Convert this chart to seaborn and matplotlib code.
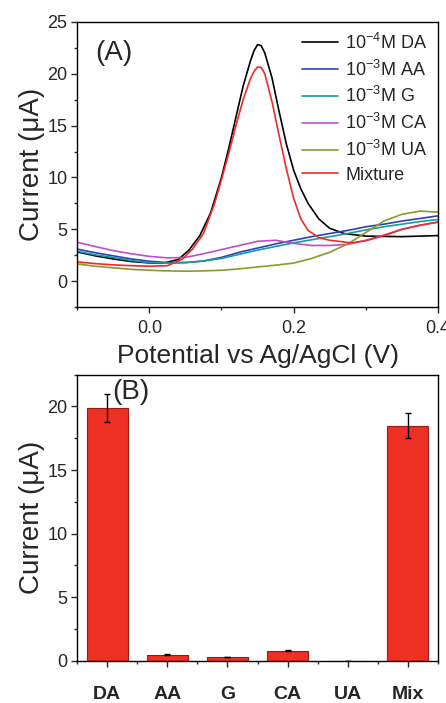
import numpy as np
import seaborn as sns
import matplotlib.pyplot as plt
from matplotlib.ticker import MultipleLocator, FormatStrFormatter

# ---- data (A): voltammograms ----
x_da = [-0.1, -0.075, -0.05, -0.025, 0.0, 0.02, 0.04, 0.055, 0.07, 0.085, 0.1, 0.11,
        0.12, 0.13, 0.14, 0.145, 0.15, 0.155, 0.16, 0.17, 0.18, 0.19, 0.2, 0.21, 0.22,
        0.235, 0.25, 0.27, 0.3, 0.35, 0.4]
y_da = [2.83, 2.45, 2.15, 1.9, 1.77, 1.75, 2.1, 3.0, 4.4, 6.6, 10.0, 12.8,
        15.8, 18.8, 21.2, 22.2, 22.8, 22.7, 22.0, 19.6, 16.3, 13.2, 10.7, 8.9, 7.5,
        6.0, 5.1, 4.6, 4.35, 4.3, 4.4]

x_mix = [-0.1, -0.075, -0.05, -0.025, 0.0, 0.025, 0.045, 0.06, 0.075, 0.09, 0.1, 0.11,
         0.12, 0.13, 0.14, 0.145, 0.15, 0.155, 0.16, 0.17, 0.18, 0.19, 0.2, 0.21, 0.22,
         0.235, 0.25, 0.28, 0.3, 0.325, 0.35, 0.375, 0.4]
y_mix = [1.87, 1.7, 1.58, 1.5, 1.45, 1.5, 2.1, 3.1, 4.6, 7.4, 9.8, 12.3,
         15.0, 17.5, 19.5, 20.2, 20.65, 20.6, 20.0, 17.3, 14.0, 10.8, 8.0, 6.0, 4.9,
         4.2, 3.95, 3.7, 3.9, 4.4, 5.0, 5.4, 5.7]

x_bg = [-0.1, -0.075, -0.05, -0.025, 0.0, 0.025, 0.05, 0.075, 0.1, 0.125, 0.15,
        0.175, 0.2, 0.225, 0.25, 0.275, 0.3, 0.325, 0.35, 0.375, 0.4]
y_aa = [3.1, 2.75, 2.45, 2.15, 1.93, 1.8, 1.8, 1.95, 2.3, 2.8, 3.2,
        3.6, 3.95, 4.3, 4.6, 4.9, 5.25, 5.5, 5.8, 6.05, 6.3]
y_g = [2.9, 2.55, 2.3, 2.0, 1.8, 1.75, 1.8, 1.95, 2.2, 2.6, 3.0,
       3.35, 3.7, 4.0, 4.3, 4.6, 4.95, 5.25, 5.5, 5.75, 5.95]
y_ca = [3.76, 3.35, 2.95, 2.65, 2.4, 2.25, 2.3, 2.65, 3.05, 3.45, 3.85,
        3.95, 3.65, 3.45, 3.45, 3.55, 3.95, 4.45, 5.0, 5.4, 5.7]
y_ua = [1.67, 1.45, 1.3, 1.15, 1.06, 1.0, 0.97, 1.0, 1.06, 1.2, 1.38,
        1.55, 1.75, 2.2, 2.8, 3.6, 4.7, 5.8, 6.45, 6.76, 6.66]

# ---- data (B): peak currents ----
species = ["DA", "AA", "G", "CA", "UA", "Mix"]
peak_current = [19.9, 0.48, 0.3, 0.81, 0.0, 18.5]
peak_err = [1.12, 0.05, 0.03, 0.05, 0.0, 1.0]

sns.set_style("ticks")
plt.rcParams['font.family'] = ['Liberation Sans', 'DejaVu Sans']
plt.rcParams['mathtext.fontset'] = 'custom'
plt.rcParams['mathtext.rm'] = 'Liberation Sans'
plt.rcParams['mathtext.it'] = 'Liberation Sans:italic'
plt.rcParams['mathtext.bf'] = 'Liberation Sans:bold'

fig = plt.figure(figsize=(4.46, 7.03), dpi=100)
ax1 = fig.add_axes([0.173, 0.563, 0.809, 0.406])
ax2 = fig.add_axes([0.173, 0.060, 0.809, 0.407])

# (A)
series = [
    (x_da, y_da, "black", r"10$^{-4}$M DA"),
    (x_bg, y_aa, "#2f3fb5", r"10$^{-3}$M AA"),
    (x_bg, y_g, "#139f9a", r"10$^{-3}$M G"),
    (x_bg, y_ca, "#c04fc0", r"10$^{-3}$M CA"),
    (x_bg, y_ua, "#8a9a2a", r"10$^{-3}$M UA"),
    (x_mix, y_mix, "#ee2a2a", "Mixture"),
]
for xs, ys, c, lab in series:
    sns.lineplot(x=xs, y=ys, ax=ax1, color=c, label=lab, linewidth=1.2,
                 sort=False, estimator=None)

ax1.set_xlim(-0.1, 0.4)
ax1.set_ylim(-2.5, 25)
ax1.xaxis.set_major_locator(MultipleLocator(0.2))
ax1.xaxis.set_minor_locator(MultipleLocator(0.1))
ax1.xaxis.set_major_formatter(FormatStrFormatter("%.1f"))
ax1.yaxis.set_major_locator(MultipleLocator(5))
ax1.yaxis.set_minor_locator(MultipleLocator(2.5))
ax1.set_xlabel("Potential vs Ag/AgCl (V)", fontsize=19, labelpad=5)
ax1.set_ylabel("Current (μA)", fontsize=20, labelpad=2)
ax1.text(0.05, 0.89, "(A)", transform=ax1.transAxes, fontsize=20, va="center")
ax1.legend(loc="upper right", frameon=False, fontsize=13, handlelength=2.0,
           handletextpad=0.4, labelspacing=0.37, borderaxespad=0.2)

# (B)
sns.barplot(x=species, y=peak_current, ax=ax2, color="#ee3124", saturation=1,
            width=0.68, edgecolor="#9c1a14", linewidth=0.8)
ax2.errorbar(x=np.arange(len(species)), y=peak_current, yerr=peak_err, fmt="none",
             ecolor="black", elinewidth=1, capsize=2.5, capthick=1)
ax2.set_xlim(-0.5, 5.5)
ax2.set_ylim(0, 22.5)
ax2.yaxis.set_major_locator(MultipleLocator(5))
ax2.yaxis.set_minor_locator(MultipleLocator(2.5))
ax2.xaxis.set_minor_locator(MultipleLocator(1, offset=0.5))
ax2.set_ylabel("Current (μA)", fontsize=20, labelpad=2)
ax2.set_xlabel("")
ax2.text(0.097, 0.94, "(B)", transform=ax2.transAxes, fontsize=20, va="center")
for lab in ax2.get_xticklabels():
    lab.set_fontweight("bold")

for ax in (ax1, ax2):
    for s in ax.spines.values():
        s.set_visible(True)
        s.set_linewidth(1.0)
        s.set_color("black")
    ax.tick_params(which="major", length=4, width=1, labelsize=13, pad=3)
    ax.tick_params(which="minor", length=2, width=1)
ax1.tick_params(axis="x", which="major", pad=5)
ax2.tick_params(axis="x", which="major", length=4, labelsize=14, pad=14)

fig.savefig("out.png", dpi=100)
